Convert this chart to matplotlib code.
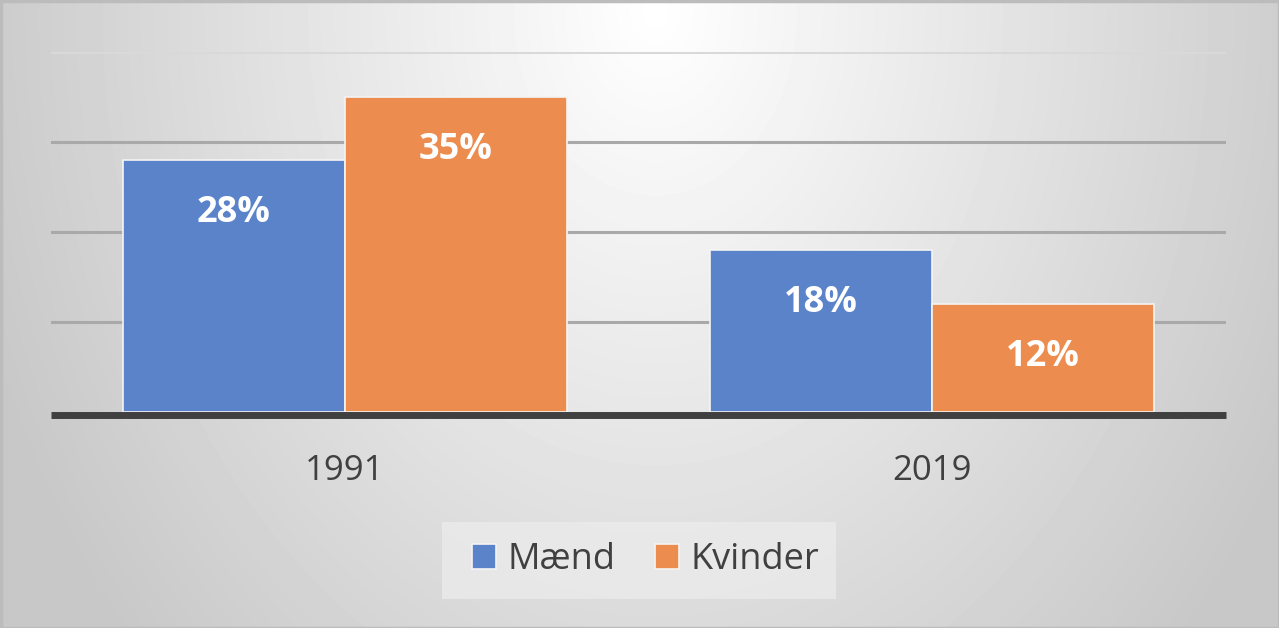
import numpy as np
import matplotlib
matplotlib.use('Agg')
import matplotlib.pyplot as plt
from matplotlib.patches import Rectangle

plt.rcParams['font.family'] = ['Open Sans', 'DejaVu Sans']

# data
years = ['1991', '2019']
maend = [28, 18]
kvinder = [35, 12]
series_names = ['Mænd', 'Kvinder']
grid_ticks = [0, 10, 20, 30, 40]

W, H = 1279, 628
fig = plt.figure(figsize=(W / 100, H / 100), dpi=100)

# background gradient (light at top centre, grey towards the edges)
bg = fig.add_axes([0, 0, 1, 1], zorder=-2)
xx, yy = np.meshgrid(np.arange(W), np.arange(H))
r = np.sqrt(((xx - 655) / 710.0) ** 2 + ((yy - 10) / 930.0) ** 2)
shade = 255 - 55 * np.clip(r, 0, 1)
bg.imshow(shade, cmap='gray', vmin=0, vmax=255, aspect='auto', interpolation='bilinear')
bg.axis('off')
bg.add_patch(Rectangle((0, 0), W - 1, H - 1, fill=False, edgecolor='#bcbcbc', linewidth=2.5))

# legend box
fig.patches.append(Rectangle((442 / W, 1 - 599 / H), 394 / W, 77 / H, transform=fig.transFigure,
                             facecolor='#ececec', edgecolor='none', alpha=0.75, zorder=0))

ax = fig.add_axes([51 / W, 1 - 412 / H, 1175 / W, 360 / H])
ax.set_facecolor('none')

x = np.arange(len(years))
w = 0.378
colors = ['#5b83c9', '#ec8c4e']
b1 = ax.bar(x - w / 2, maend, w, color=colors[0], edgecolor='#f4f4f4', linewidth=1.2, label=series_names[0], zorder=3)
b2 = ax.bar(x + w / 2, kvinder, w, color=colors[1], edgecolor='#f4f4f4', linewidth=1.2, label=series_names[1], zorder=3)

for bars in (b1, b2):
    for rect in bars:
        v = rect.get_height()
        ax.annotate(f'{v:.0f}%', (rect.get_x() + rect.get_width() / 2, v), xytext=(0, -38),
                    textcoords='offset points', ha='center', va='center', color='white',
                    fontsize=26, fontweight='bold', zorder=4)

ax.set_xlim(-0.5, 1.5)
ax.set_ylim(0, 40)
ax.set_yticks(grid_ticks)
ax.yaxis.grid(True, color='#a9a9a9', linewidth=2.2, zorder=1)
gl = ax.get_ygridlines()
gl[-1].set_color('#d9d9d9')
gl[0].set_visible(False)
ax.tick_params(axis='y', left=False, labelleft=False)
ax.set_xticks(x)
ax.set_xticklabels(years)
ax.tick_params(axis='x', bottom=False, pad=24, labelsize=25, labelcolor='#404040')

for s in ['top', 'left', 'right']:
    ax.spines[s].set_visible(False)
ax.spines['bottom'].set_color('#404040')
ax.spines['bottom'].set_linewidth(5)
ax.spines['bottom'].set_capstyle('butt')
ax.spines['bottom'].set_position(('outward', 2.5))
ax.spines['bottom'].set_zorder(5)

fig.legend(handles=[b1, b2], loc='center', bbox_to_anchor=((442 + 836) / 2 / W + 0.005, 1 - 560 / H),
           ncol=2, frameon=False, fontsize=26, labelcolor='#404040',
           handlelength=0.68, handleheight=0.68, handletextpad=0.3, columnspacing=1.1)

fig.savefig('out.png', dpi=100)
